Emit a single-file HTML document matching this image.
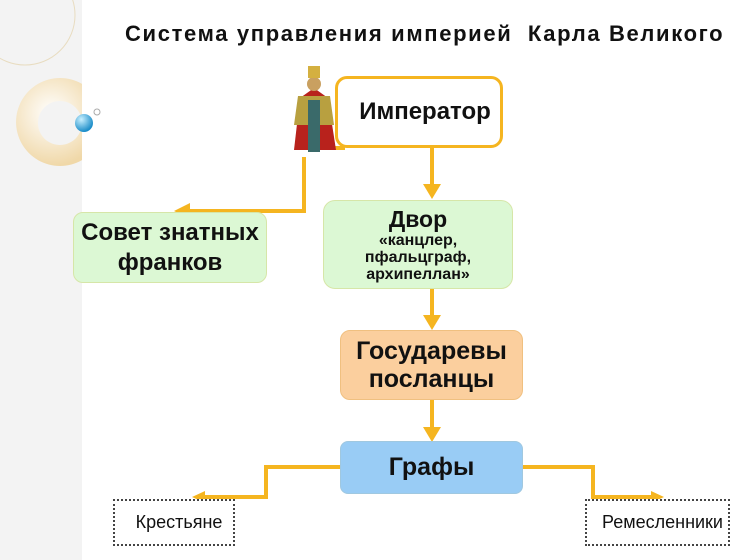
<!DOCTYPE html>
<html><head><meta charset="utf-8"><style>
body{margin:0;width:750px;height:560px;position:relative;background:#fff;font-family:"Liberation Sans",sans-serif;overflow:hidden}
.b{position:absolute;box-sizing:border-box;display:flex;align-items:center;justify-content:center;text-align:center;font-weight:bold;color:#111}
</style></head><body>
<div style="position:absolute;left:0;top:0;width:82px;height:560px;background:#f3f3f3"></div>
<svg width="750" height="560" style="position:absolute;left:0;top:0">
<defs><clipPath id="c"><rect x="0" y="0" width="82" height="560"/></clipPath>
<radialGradient id="g" cx="0.4" cy="0.4" r="0.6"><stop offset="0" stop-color="#fff"/><stop offset="1" stop-color="#f0d8a8"/></radialGradient>
<radialGradient id="bl" cx="0.35" cy="0.3" r="0.7"><stop offset="0" stop-color="#c8f0ff"/><stop offset="1" stop-color="#1a8cc8"/></radialGradient></defs>
<g clip-path="url(#c)">
<circle cx="25" cy="15" r="50" fill="none" stroke="#e8dcc0" stroke-width="1"/>
<path d="M60,78 a44,44 0 1,0 0.1,0 Z M60,101 a22,22 0 1,1 -0.1,0 Z" fill="url(#g)" fill-rule="evenodd"/>
</g>
<circle cx="84" cy="123" r="9" fill="url(#bl)"/>
<circle cx="97" cy="112" r="3" fill="none" stroke="#aaa" stroke-width="1"/>
<g stroke="#f5b520" stroke-width="4" fill="none">
<path d="M432,147 V186"/><path d="M304,157 V211 H188"/><path d="M330,148 H345"/>
<path d="M432,288 V316"/><path d="M432,400 V428"/>
<path d="M340,467 H266 V497 H204"/><path d="M522,467 H593 V497 H652"/>
</g>
<g fill="#f5b520">
<path d="M423,184 L441,184 L432,199 Z"/><path d="M190,203 L190,219 L174,211 Z"/>
<path d="M423,315 L441,315 L432,330 Z"/><path d="M423,427 L441,427 L432,442 Z"/>
<path d="M205,491 L205,503 L192,497 Z"/><path d="M651,491 L651,503 L664,497 Z"/>
</g>
<g>
<path d="M294,150 L300,98 L314,88 L328,98 L336,150 Z" fill="#b8221c"/>
<path d="M298,96 L330,96 L334,125 L294,125 Z" fill="#b8a040"/>
<rect x="308" y="100" width="12" height="52" fill="#3a6a6a"/>
<circle cx="314" cy="84" r="7" fill="#c9a060"/>
<rect x="308" y="66" width="12" height="12" fill="#d4b040"/>
</g>
</svg>
<div style="position:absolute;left:125px;top:21px;font-size:22px;letter-spacing:1.65px;font-weight:bold;color:#111;white-space:nowrap">Система управления империей&nbsp; Карла Великого</div>
<div class="b" style="left:335px;top:76px;width:168px;height:72px;border:3px solid #f5b520;border-radius:12px;background:#fff;font-size:24px;padding-left:12px">Император</div>
<div class="b" style="left:73px;top:212px;width:194px;height:71px;border:1px solid #d6e6a8;border-radius:10px;background:#dcf8d4;font-size:24px;line-height:30px">Совет знатных<br>франков</div>
<div class="b" style="left:323px;top:200px;width:190px;height:89px;border:1px solid #d6e6a8;border-radius:12px;background:#dcf8d4;flex-direction:column;line-height:17px"><span style="font-size:23px;line-height:26px">Двор</span><span style="font-size:16px">«канцлер,<br>пфальцграф,<br>архипеллан»</span></div>
<div class="b" style="left:340px;top:330px;width:183px;height:70px;border:1px solid #f0c080;border-radius:10px;background:#fbcf9e;font-size:25px;line-height:28px">Государевы<br>посланцы</div>
<div class="b" style="left:340px;top:441px;width:183px;height:53px;border:1px solid #a0c8e0;border-radius:8px;background:#99ccf5;font-size:25px">Графы</div>
<div class="b" style="left:113px;top:499px;width:122px;height:47px;border:2px dotted #444;background:#fff;font-size:18px;font-weight:normal;padding-left:10px">Крестьяне</div>
<div class="b" style="left:585px;top:499px;width:145px;height:47px;border:2px dotted #444;background:#fff;font-size:18px;font-weight:normal;padding-left:10px">Ремесленники</div>
</body></html>
